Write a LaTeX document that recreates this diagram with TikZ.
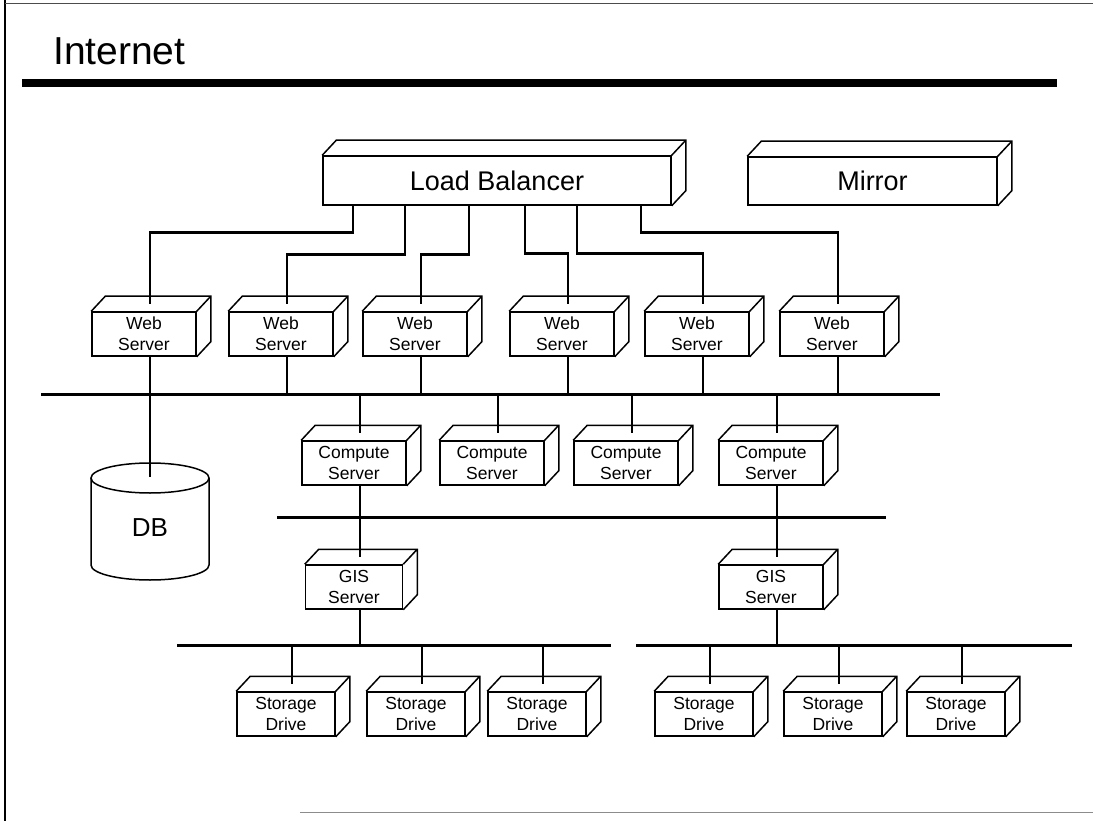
\documentclass[tikz,border=0pt]{standalone}
\usepackage{fontspec}
\setmainfont{Liberation Sans}
\usetikzlibrary{calc}
\tikzset{
  boxline/.style={line width=1.5pt, line join=miter},
  cubeface/.style={draw, boxline, fill=white, inner sep=0pt, align=center, font=\fontsize{17.5}{21}\selectfont},
  conn/.style={line width=2.6pt},
  bus/.style={line width=3pt},
  bigtext/.style={font=\fontsize{27}{32}\selectfont},
}
\newcommand{\cubebox}[7][]{%
  \node[cubeface, minimum width=#5pt, minimum height=#6pt, #1] (#2) at (#3,#4) {#7};
  \draw[boxline] (#2.north west) -- ++(14,-15) -- ($(#2.north east)+(14,-15)$) -- ($(#2.south east)+(14,-15)$) -- (#2.south east)
     (#2.north east) -- ++(14,-15);
  \coordinate (#2-t) at ($(#2.north)+(6,-7)$);
  \coordinate (#2-b) at ($(#2.south)+(6,0)$);
}
\begin{document}
\begin{tikzpicture}[x=1pt,y=-1pt]
\useasboundingbox (0,0) rectangle (1093,821);
% frame
\draw[line width=1.4pt] (5,0) -- (5,821);
\draw[line width=0.9pt, black!70] (5,3) -- (1093,3);
\draw[line width=0.8pt, black!45] (300,812) -- (1093,812);
% title
\node[anchor=base west, inner sep=0pt, font=\fontsize{39}{44}\selectfont] (title) at (53,65) {Internet};
\coordinate (barw) at (22,83);
\coordinate (bare) at (1057,83);
\draw[line width=8pt] (barw) -- (bare);

% top boxes
\cubebox[bigtext]{lb}{497}{180.5}{348}{49}{Load Balancer}
\cubebox[bigtext]{mirror}{872.5}{181}{249}{48}{Mirror}

% web servers
\cubebox{ws1}{144}{334}{104}{44}{Web\\Server}
\cubebox{ws2}{281}{334}{104}{44}{Web\\Server}
\cubebox{ws3}{415}{334}{104}{44}{Web\\Server}
\cubebox{ws4}{562}{334}{104}{44}{Web\\Server}
\cubebox{ws5}{697}{334}{104}{44}{Web\\Server}
\cubebox{ws6}{832}{334}{104}{44}{Web\\Server}

% LB connectors
\draw[conn] ([xshift=-144pt]lb.south) -- ++(0,27) -| (ws1-t);
\draw[conn] ([xshift=-92pt]lb.south) -- ++(0,49) -| (ws2-t);
\draw[conn] ([xshift=-28pt]lb.south) -- ++(0,49) -| (ws3-t);
\draw[conn] ([xshift=28pt]lb.south) -- ++(0,48) -| (ws4-t);
\draw[conn] ([xshift=80pt]lb.south) -- ++(0,48) -| (ws5-t);
\draw[conn] ([xshift=144pt]lb.south) -- ++(0,27) -| (ws6-t);

% bus 1
\coordinate (b1w) at (41,394);
\coordinate (b1e) at (940,394);
\draw[bus] (b1w) -- (b1e);
\foreach \n in {ws2,ws3,ws4,ws5,ws6}{\draw[conn] (\n-b) -- (\n-b |- b1w);}

% DB
\coordinate (dbtop) at (150,477);
\draw[boxline, fill=white] (91,478) -- (91,565) arc[start angle=180, end angle=360, x radius=59pt, y radius=15pt] -- (209,478);
\draw[boxline] (150,478) ellipse[x radius=59pt, y radius=15pt];
\node[font=\fontsize{26}{30}\selectfont] (db) at (150,528) {DB};
\draw[conn] (ws1-b) -- (dbtop);

% compute servers
\cubebox{cs1}{354}{463}{104}{44}{Compute\\Server}
\cubebox{cs2}{492}{463}{104}{44}{Compute\\Server}
\cubebox{cs3}{626}{463}{104}{44}{Compute\\Server}
\cubebox{cs4}{771}{463}{104}{44}{Compute\\Server}
\foreach \n in {cs1,cs2,cs3,cs4}{\draw[conn] (\n-t |- b1w) -- (\n-t);}

% bus 2
\coordinate (b2w) at (277,517);
\coordinate (b2e) at (886,517);
\draw[bus] (b2w) -- (b2e);

% GIS servers
\cubebox{gis1}{354}{587}{97}{44}{GIS\\Server}
\cubebox{gis2}{771}{587}{104}{44}{GIS\\Server}
\draw[conn] (cs1-b) -- (gis1-t);
\draw[conn] (cs4-b) -- (gis2-t);

% bus 3
\coordinate (b3w) at (177,645);
\coordinate (b3m) at (611,645);
\coordinate (b3n) at (636,645);
\coordinate (b3e) at (1072,645);
\draw[bus] (b3w) -- (b3m);
\draw[bus] (b3n) -- (b3e);
\draw[conn] (gis1-b) -- (gis1-b |- b3w);
\draw[conn] (gis2-b) -- (gis2-b |- b3n);

% storage drives
\cubebox{sd1}{286}{714}{98}{44}{Storage\\Drive}
\cubebox{sd2}{416}{714}{98}{44}{Storage\\Drive}
\cubebox{sd3}{537}{714}{98}{44}{Storage\\Drive}
\cubebox{sd4}{704}{714}{98}{44}{Storage\\Drive}
\cubebox{sd5}{833}{714}{98}{44}{Storage\\Drive}
\cubebox{sd6}{956}{714}{98}{44}{Storage\\Drive}
\foreach \n in {sd1,sd2,sd3,sd4,sd5,sd6}{\draw[conn] (\n-t |- b3w) -- (\n-t);}
\end{tikzpicture}
\end{document}
